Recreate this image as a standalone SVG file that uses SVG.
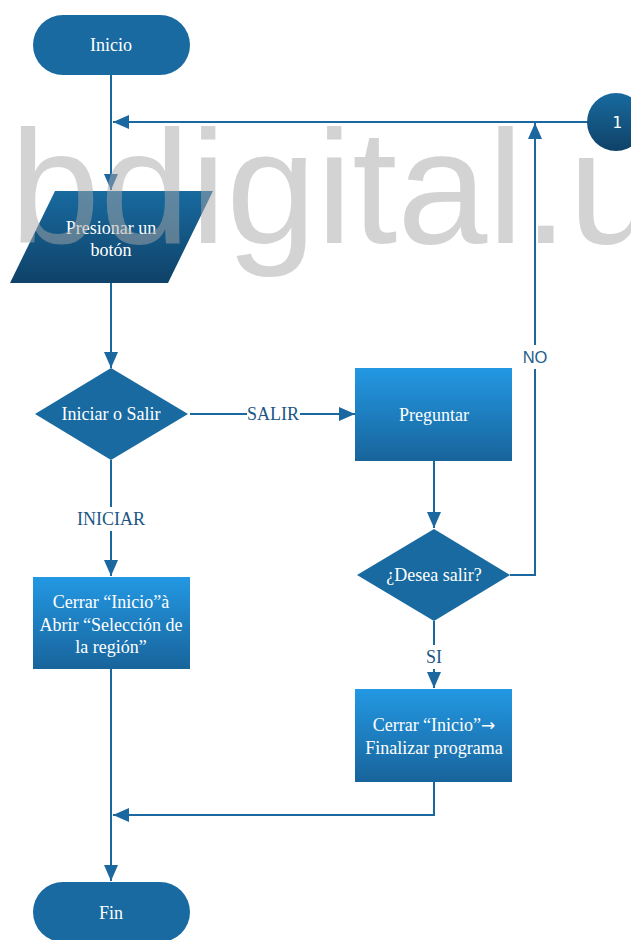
<svg xmlns="http://www.w3.org/2000/svg" width="631" height="940" viewBox="0 0 631 940">
<style>
.t{font-family:"Liberation Serif","Times New Roman",serif;font-size:18px;fill:#ffffff;text-anchor:middle}
.lbl{font-family:"Liberation Serif","Times New Roman",serif;font-size:18px;fill:#1c5684;text-anchor:middle}
.con{fill:none;stroke:#1b67a0;stroke-width:2}
.solid{fill:#186aa0}
.wm{font-family:"Liberation Sans",Arial,sans-serif;font-size:162px;fill:#a7a7a7;fill-opacity:0.5}
</style>
<defs>
<linearGradient id="gBox" x1="0" y1="0" x2="0" y2="1">
<stop offset="0" stop-color="#2398e3"/>
<stop offset="1" stop-color="#18649b"/>
</linearGradient>
<linearGradient id="gDark" x1="0" y1="0" x2="0" y2="1">
<stop offset="0" stop-color="#186a9f"/>
<stop offset="1" stop-color="#0f4268"/>
</linearGradient>
<marker id="arr" markerUnits="userSpaceOnUse" markerWidth="17" markerHeight="15" refX="16" refY="7" orient="auto">
<path d="M0,0 L16,7 L0,14 z" fill="#1b67a0"/>
</marker>
</defs>
<rect width="631" height="940" fill="#ffffff"/>

<g id="connectors">
<path class="con" d="M111,75 V190" marker-end="url(#arr)"/>
<path class="con" d="M588,122 H113" marker-end="url(#arr)"/>
<path class="con" d="M111,283 V368" marker-end="url(#arr)"/>
<path class="con" d="M190,414 H355" marker-end="url(#arr)"/>
<path class="con" d="M434,461 V528" marker-end="url(#arr)"/>
<path class="con" d="M510,575 H535 V123" marker-end="url(#arr)"/>
<path class="con" d="M434,621 V688" marker-end="url(#arr)"/>
<path class="con" d="M111,460 V576" marker-end="url(#arr)"/>
<path class="con" d="M111,669 V881" marker-end="url(#arr)"/>
<path class="con" d="M434,782 V815 H113" marker-end="url(#arr)"/>
<rect x="247" y="402" width="53" height="24" fill="#ffffff"/>
<text class="lbl" x="273" y="420">SALIR</text>
<rect x="74" y="507" width="74" height="24" fill="#ffffff"/>
<text class="lbl" x="111" y="525">INICIAR</text>
<rect x="422" y="645" width="24" height="24" fill="#ffffff"/>
<text class="lbl" x="434" y="663">SI</text>
<rect x="519" y="345" width="32" height="24" fill="#ffffff"/>
<text x="535" y="363" text-anchor="middle" font-family="Liberation Sans, Arial, sans-serif" font-size="16.5" fill="#245d8a">NO</text>
</g>

<g id="inicio">
<rect class="solid" x="33" y="15" width="157" height="60" rx="30" ry="30"/>
<text class="t" x="111" y="51">Inicio</text>
</g>

<g id="conector1">
<circle cx="616" cy="122" r="29" fill="url(#gDark)"/>
<text x="617" y="128" text-anchor="middle" font-family="DejaVu Sans Mono, Liberation Mono, monospace" font-size="16" fill="#ffffff">1</text>
</g>

<g id="presionar">
<polygon points="55,191 213,191 168,283 10,283" fill="url(#gDark)"/>
<text class="t" x="111" y="234">Presionar un</text>
<text class="t" x="111" y="256">botón</text>
</g>

<g id="iniciar-salir">
<polygon class="solid" points="111,368 188,414 111,460 35,414"/>
<text class="t" x="111" y="420">Iniciar o Salir</text>
</g>

<g id="preguntar">
<rect x="355" y="368" width="157" height="93" fill="url(#gBox)"/>
<text class="t" x="434" y="421">Preguntar</text>
</g>

<g id="desea-salir">
<polygon class="solid" points="434,529 510,575 434,621 357,575"/>
<text class="t" x="434" y="581">¿Desea salir?</text>
</g>

<g id="abrir-seleccion">
<rect x="33" y="577" width="157" height="92" fill="url(#gBox)"/>
<text class="t" x="111" y="608">Cerrar “Inicio”à</text>
<text class="t" x="111" y="631">Abrir “Selección de</text>
<text class="t" x="111" y="653">la región”</text>
</g>

<g id="finalizar">
<rect x="355" y="689" width="157" height="93" fill="url(#gBox)"/>
<text class="t" x="434" y="731">Cerrar “Inicio”<tspan font-family="DejaVu Sans, sans-serif" font-size="17">→</tspan></text>
<text class="t" x="434" y="754">Finalizar programa</text>
</g>

<g id="fin">
<rect class="solid" x="33" y="882" width="157" height="60" rx="30" ry="30"/>
<text class="t" x="111" y="919">Fin</text>
</g>

<text class="wm" x="10" y="243">bdigital.u</text>
</svg>
